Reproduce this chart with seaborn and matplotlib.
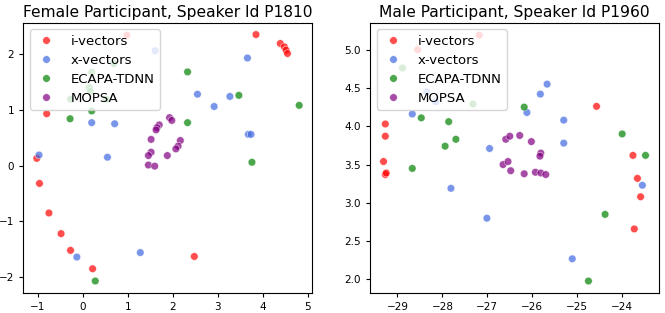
import pandas as pd
import numpy as np
import matplotlib.pyplot as plt
import seaborn as sns

''' Embedding coordinates read off the two panels '''
methods = ["i-vectors", "x-vectors", "ECAPA-TDNN", "MOPSA"]
colors = ["red", "royalblue", "green", "purple"]

# Female participant P1810
f_ivec_x = [0.98, 3.85, 4.39, 4.48, 4.52, 4.55, -0.80, -1.02, -0.96, -0.75, -0.48, -0.27, 0.22, 2.48]
f_ivec_y = [2.34, 2.35, 2.19, 2.13, 2.07, 2.01, 0.93, 0.13, -0.32, -0.85, -1.22, -1.52, -1.85, -1.63]
f_xvec_x = [1.61, 3.66, 2.55, 3.27, 2.92, 0.20, 0.71, 3.68, 3.74, -0.97, 0.55, -0.13, 1.28]
f_xvec_y = [2.06, 1.93, 1.28, 1.24, 1.06, 0.77, 0.75, 0.56, 0.56, 0.19, 0.15, -1.64, -1.56]
f_ecapa_x = [2.33, 3.47, 4.81, -0.28, 0.20, 2.33, 3.76, 0.28, 0.20, 0.15, 0.17, -0.27, 0.69, 0.52]
f_ecapa_y = [1.68, 1.26, 1.08, 0.84, 0.98, 0.77, 0.06, -2.07, 1.67, 1.40, 1.33, 1.19, 1.83, 1.19]
f_mopsa_x = [1.93, 1.98, 1.70, 1.65, 1.63, 1.52, 2.17, 2.12, 2.07, 1.52, 1.46, 1.88, 1.46, 1.60]
f_mopsa_y = [0.86, 0.81, 0.73, 0.68, 0.64, 0.47, 0.45, 0.35, 0.30, 0.24, 0.18, 0.18, 0.01, -0.01]

# Male participant P1960
m_ivec_x = [-27.18, -28.55, -29.27, -29.27, -24.57, -23.76, -29.31, -29.27, -29.25, -23.66, -23.59, -23.73]
m_ivec_y = [5.19, 5.00, 4.03, 3.87, 4.26, 3.62, 3.54, 3.37, 3.39, 3.32, 3.08, 2.66]
m_xvec_x = [-28.35, -28.15, -28.67, -25.67, -25.82, -26.12, -25.30, -25.30, -26.95, -27.81, -27.01, -25.11, -23.55]
m_xvec_y = [4.45, 4.32, 4.16, 4.55, 4.42, 4.18, 4.08, 3.78, 3.71, 3.19, 2.80, 2.27, 3.23]
m_ecapa_x = [-28.89, -27.32, -26.18, -28.47, -27.86, -27.70, -27.94, -24.00, -23.48, -28.67, -24.38, -24.75]
m_ecapa_y = [4.76, 4.29, 4.25, 4.11, 4.06, 3.83, 3.74, 3.90, 3.62, 3.45, 2.85, 1.98]
m_mopsa_x = [-26.59, -26.50, -26.28, -26.02, -25.81, -25.83, -26.65, -26.54, -26.48, -26.18, -25.93, -25.81, -25.70]
m_mopsa_y = [3.83, 3.87, 3.88, 3.80, 3.65, 3.61, 3.50, 3.54, 3.42, 3.38, 3.40, 3.39, 3.37]


def make_df(xs, ys):
    frames = []
    for m, x, y in zip(methods, xs, ys):
        frames.append(pd.DataFrame({"x": x, "y": y, "method": m}))
    return pd.concat(frames, ignore_index=True)


df_f = make_df([f_ivec_x, f_xvec_x, f_ecapa_x, f_mopsa_x],
               [f_ivec_y, f_xvec_y, f_ecapa_y, f_mopsa_y])
df_m = make_df([m_ivec_x, m_xvec_x, m_ecapa_x, m_mopsa_x],
               [m_ivec_y, m_xvec_y, m_ecapa_y, m_mopsa_y])

''' Plot '''
fig, axes = plt.subplots(1, 2, figsize=(6.65, 3.13), dpi=100)
plt.subplots_adjust(left=0.035, right=0.991, bottom=0.063, top=0.927, wspace=0.2)

panels = [(df_f, "Female Participant, Speaker Id P1810", (-1.32, 5.1), (-2.29, 2.56)),
          (df_m, "Male Participant, Speaker Id P1960", (-29.61, -23.18), (1.82, 5.35))]

for ax, (d, title, xl, yl) in zip(axes, panels):
    sns.scatterplot(data=d, x="x", y="y", hue="method", hue_order=methods,
                    palette=colors, alpha=0.7, s=30, ax=ax)
    ax.set_title(title, fontsize=11.2, pad=4)
    ax.set_xlabel("")
    ax.set_ylabel("")
    ax.set_xlim(xl)
    ax.set_ylim(yl)
    ax.tick_params(labelsize=7.5, length=3)
    ax.legend(loc="upper left", fontsize=9.5, title=None,
              handlelength=1.7, handletextpad=1.0, labelspacing=0.45)

axes[1].set_yticks([2.0, 2.5, 3.0, 3.5, 4.0, 4.5, 5.0])

plt.savefig("out.png", dpi=100)
